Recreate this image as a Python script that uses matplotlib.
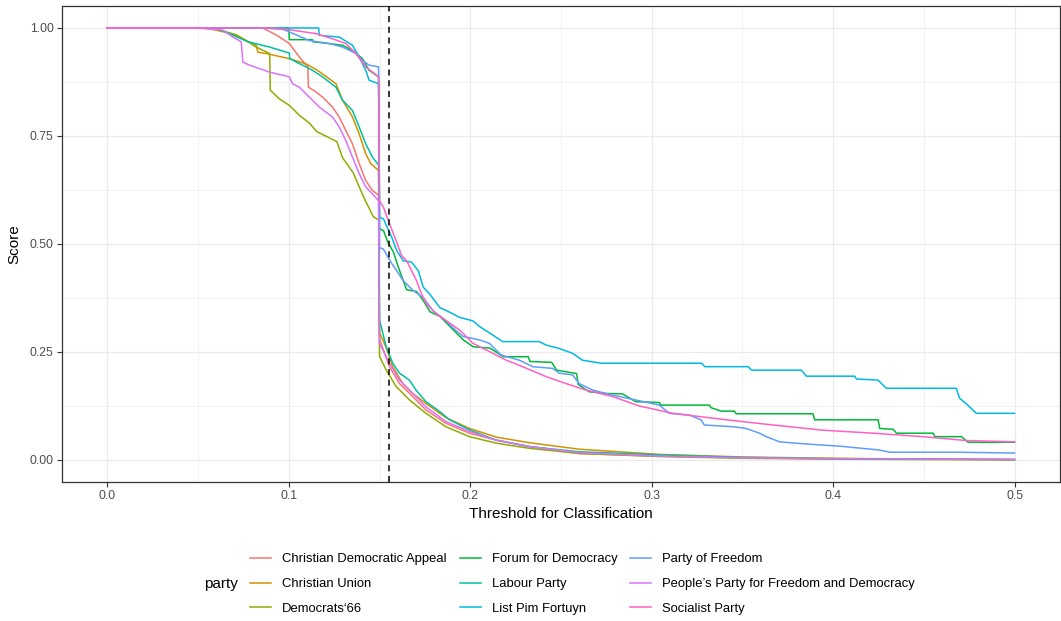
import numpy as np
import matplotlib.pyplot as plt
from matplotlib.lines import Line2D
from matplotlib.ticker import MultipleLocator

plt.rcParams['font.family'] = ['Liberation Sans', 'DejaVu Sans']

parties = ['Christian Democratic Appeal', 'Christian Union', 'Democrats‘66',
           'Forum for Democracy', 'Labour Party', 'List Pim Fortuyn',
           'Party of Freedom', "People’s Party for Freedom and Democracy",
           'Socialist Party']
colors = ['#F8766D', '#D39200', '#93AA00', '#00BA38', '#00C19F',
          '#00B9E3', '#619CFF', '#DB72FB', '#FF61C3']

cutoff = 0.1553

# Christian Democratic Appeal
cda_x = [0, 0.0857, 0.093, 0.1003, 0.1058, 0.1105, 0.1108, 0.115, 0.1186, 0.1241, 0.1278, 0.1314,
         0.1351, 0.1388, 0.1424, 0.1461, 0.1495,
         0.15, 0.1555, 0.161, 0.1683, 0.1756, 0.1866, 0.1996, 0.2143, 0.2326, 0.26, 0.304, 0.35,
         0.4, 0.45, 0.5]
cda_y = [1, 1, 0.984, 0.964, 0.933, 0.91, 0.863, 0.852, 0.84, 0.817, 0.794, 0.763,
         0.732, 0.686, 0.647, 0.624, 0.613,
         0.28, 0.216, 0.177, 0.147, 0.116, 0.085, 0.062, 0.046, 0.031, 0.015, 0.009, 0.005,
         0.003, 0.002, 0.001]

# Christian Union
cu_x = [0, 0.055, 0.071, 0.0765, 0.082, 0.083, 0.0875, 0.1003, 0.1095, 0.115, 0.1186, 0.126,
        0.1296, 0.1351, 0.1388, 0.1424, 0.1452, 0.1495,
        0.15, 0.1537, 0.1573, 0.1628, 0.1683, 0.1756, 0.1866, 0.1996, 0.2143, 0.2326, 0.26,
        0.304, 0.35, 0.4, 0.45, 0.5]
cu_y = [1, 1, 0.984, 0.971, 0.96, 0.944, 0.941, 0.929, 0.917, 0.904, 0.894, 0.871,
        0.833, 0.794, 0.755, 0.709, 0.686, 0.67,
        0.295, 0.26, 0.216, 0.177, 0.154, 0.131, 0.098, 0.073, 0.053, 0.04, 0.025,
        0.013, 0.007, 0.004, 0.002, 0.001]

# Democrats'66
d66_x = [0, 0.053, 0.064, 0.071, 0.0765, 0.082, 0.0895, 0.0898, 0.0948, 0.1003, 0.1058, 0.1113,
         0.1155, 0.1265, 0.1296, 0.1356, 0.1411, 0.1466, 0.1495,
         0.15, 0.1537, 0.1592, 0.1665, 0.1756, 0.1866, 0.1996, 0.2143, 0.2326, 0.26, 0.304,
         0.35, 0.4, 0.45, 0.5]
d66_y = [1, 1, 0.993, 0.984, 0.971, 0.956, 0.941, 0.856, 0.836, 0.821, 0.798, 0.78,
         0.76, 0.737, 0.7, 0.664, 0.61, 0.563, 0.556,
         0.24, 0.208, 0.17, 0.139, 0.108, 0.077, 0.054, 0.039, 0.027, 0.015, 0.008,
         0.004, 0.002, 0.001, 0.0005]

# Forum for Democracy
fvd_x = [0, 0.1, 0.1003, 0.1131, 0.1133, 0.1223, 0.1296, 0.1351, 0.1406, 0.1443, 0.1495,
         0.15, 0.1522, 0.1545, 0.1577, 0.1604, 0.1631, 0.165, 0.1705, 0.1741, 0.1779, 0.1834,
         0.1907, 0.1962, 0.2017, 0.2109, 0.2182, 0.232, 0.2329, 0.2449, 0.2476, 0.2586, 0.2595,
         0.2655, 0.2747, 0.2839, 0.2912, 0.3042, 0.3051, 0.3318, 0.3328, 0.3383, 0.3456, 0.3466,
         0.3889, 0.3898, 0.4248, 0.4257, 0.4331, 0.4349, 0.4551, 0.456, 0.4707, 0.4744, 0.5]
fvd_y = [1, 1, 0.973, 0.973, 0.968, 0.964, 0.96, 0.948, 0.929, 0.902, 0.887,
         0.535, 0.531, 0.505, 0.481, 0.446, 0.415, 0.394, 0.39, 0.369, 0.343, 0.332,
         0.301, 0.278, 0.262, 0.259, 0.239, 0.239, 0.228, 0.226, 0.208, 0.2, 0.175,
         0.158, 0.154, 0.153, 0.135, 0.133, 0.127, 0.127, 0.121, 0.113, 0.113, 0.107,
         0.107, 0.093, 0.093, 0.073, 0.071, 0.062, 0.062, 0.054, 0.054, 0.041, 0.041]

# Labour Party
pvda_x = [0, 0.06, 0.0775, 0.0893, 0.1003, 0.1005, 0.1095, 0.1131, 0.1186, 0.126, 0.1296,
          0.1351, 0.1388, 0.1424, 0.1461, 0.1495,
          0.15, 0.1537, 0.1573, 0.161, 0.1665, 0.1701, 0.1756, 0.1832, 0.1886, 0.2, 0.2143,
          0.2326, 0.26, 0.304, 0.35, 0.4, 0.45, 0.5]
pvda_y = [1, 1, 0.968, 0.956, 0.942, 0.929, 0.91, 0.902, 0.887, 0.863, 0.833,
          0.809, 0.771, 0.732, 0.701, 0.683,
          0.324, 0.262, 0.224, 0.201, 0.185, 0.162, 0.135, 0.112, 0.093, 0.069, 0.046,
          0.031, 0.019, 0.012, 0.006, 0.003, 0.002, 0.001]

# List Pim Fortuyn
lpf_x = [0, 0.1165, 0.1168, 0.1278, 0.1351, 0.1388, 0.1424, 0.1443, 0.1495,
         0.15, 0.1522, 0.1568, 0.1595, 0.1631, 0.1677, 0.1714, 0.1741, 0.1777, 0.1832, 0.1887,
         0.1942, 0.2015, 0.2051, 0.2125, 0.2179, 0.2381, 0.2418, 0.2491, 0.2564, 0.2619, 0.272,
         0.3275, 0.3293, 0.3532, 0.355, 0.3825, 0.3853, 0.4119, 0.4128, 0.4247, 0.4293, 0.4679,
         0.4697, 0.4734, 0.4789, 0.5]
lpf_y = [1, 1, 0.983, 0.979, 0.96, 0.933, 0.902, 0.879, 0.871,
         0.562, 0.558, 0.515, 0.485, 0.461, 0.458, 0.438, 0.4, 0.384, 0.353, 0.342,
         0.33, 0.322, 0.309, 0.289, 0.274, 0.274, 0.266, 0.258, 0.247, 0.231, 0.224,
         0.224, 0.216, 0.216, 0.208, 0.208, 0.194, 0.194, 0.1875, 0.185, 0.166, 0.166,
         0.143, 0.13, 0.108, 0.108]

# Party of Freedom
pvv_x = [0, 0.085, 0.0967, 0.1003, 0.1113, 0.1223, 0.1296, 0.137, 0.1406, 0.1443, 0.1495,
         0.15, 0.1522, 0.1558, 0.1595, 0.1631, 0.1686, 0.1741, 0.1796, 0.1869, 0.1896, 0.196,
         0.2051, 0.2106, 0.217, 0.2271, 0.2344, 0.2454, 0.2491, 0.2564, 0.26, 0.2674, 0.2784,
         0.2912, 0.3042, 0.3097, 0.3208, 0.3272, 0.329, 0.3447, 0.3521, 0.3594, 0.3631, 0.3705,
         0.3852, 0.4036, 0.4257, 0.4312, 0.468, 0.5]
pvv_y = [1, 1, 0.997, 0.991, 0.971, 0.964, 0.956, 0.941, 0.925, 0.914, 0.91,
         0.492, 0.488, 0.461, 0.438, 0.415, 0.392, 0.376, 0.345, 0.322, 0.309, 0.286,
         0.278, 0.27, 0.243, 0.231, 0.216, 0.212, 0.201, 0.197, 0.177, 0.162, 0.15,
         0.139, 0.127, 0.108, 0.104, 0.093, 0.081, 0.077, 0.073, 0.062, 0.054, 0.042,
         0.037, 0.032, 0.023, 0.018, 0.018, 0.016]

# People's Party for Freedom and Democracy
vvd_x = [0, 0.05, 0.0637, 0.0692, 0.0738, 0.0747, 0.0784, 0.0893, 0.1003, 0.1021, 0.1058,
         0.1113, 0.1168, 0.1241, 0.1278, 0.1314, 0.1351, 0.1388, 0.1424, 0.1461, 0.1495,
         0.15, 0.1555, 0.161, 0.1683, 0.1756, 0.1866, 0.1996, 0.2143, 0.2326, 0.26, 0.304,
         0.35, 0.4, 0.45, 0.5]
vvd_y = [1, 1, 0.995, 0.979, 0.968, 0.921, 0.914, 0.898, 0.887, 0.871, 0.863,
         0.84, 0.817, 0.794, 0.771, 0.74, 0.701, 0.663, 0.632, 0.616, 0.6,
         0.27, 0.224, 0.185, 0.154, 0.123, 0.089, 0.066, 0.046, 0.031, 0.017, 0.009,
         0.005, 0.003, 0.002, 0.001]

# Socialist Party
sp_x = [0, 0.09, 0.1003, 0.115, 0.1241, 0.1314, 0.137, 0.1424, 0.1495,
        0.15, 0.1522, 0.1549, 0.1577, 0.1595, 0.1622, 0.165, 0.1677, 0.1704, 0.1732, 0.1759,
        0.1814, 0.1869, 0.1941, 0.2015, 0.2106, 0.2198, 0.2289, 0.2418, 0.2527, 0.2637, 0.2784,
        0.2932, 0.3116, 0.3392, 0.3668, 0.3944, 0.422, 0.4496, 0.4735, 0.5]
sp_y = [1, 1, 0.996, 0.987, 0.975, 0.964, 0.941, 0.91, 0.887,
        0.6, 0.585, 0.554, 0.523, 0.504, 0.473, 0.461, 0.438, 0.415, 0.384, 0.361,
        0.338, 0.322, 0.301, 0.27, 0.251, 0.231, 0.216, 0.193, 0.177, 0.162, 0.147,
        0.125, 0.108, 0.094, 0.081, 0.069, 0.062, 0.054, 0.045, 0.042]

xs = [cda_x, cu_x, d66_x, fvd_x, pvda_x, lpf_x, pvv_x, vvd_x, sp_x]
ys = [cda_y, cu_y, d66_y, fvd_y, pvda_y, lpf_y, pvv_y, vvd_y, sp_y]

fig = plt.figure(figsize=(10.61, 6.21), dpi=100)
ax = fig.add_axes([0.0584, 0.2245, 0.9406, 0.7652])

for x, y, c in zip(xs, ys, colors):
    ax.plot(x, y, color=c, lw=1.1, zorder=3)

ax.axvline(cutoff, color='black', ls=(0, (4, 3)), lw=1.1, zorder=4)

ax.set_xlim(-0.025, 0.525)
ax.set_ylim(-0.05, 1.05)
ax.xaxis.set_minor_locator(MultipleLocator(0.05))
ax.yaxis.set_minor_locator(MultipleLocator(0.125))
ax.set_xticks([0, 0.1, 0.2, 0.3, 0.4, 0.5])
ax.set_xticklabels(['0.0', '0.1', '0.2', '0.3', '0.4', '0.5'])
ax.set_yticks([0, 0.25, 0.5, 0.75, 1.0])
ax.set_yticklabels(['0.00', '0.25', '0.50', '0.75', '1.00'])

ax.grid(which='major', color='#EBEBEB', lw=0.9, zorder=0)
ax.grid(which='minor', color='#EBEBEB', lw=0.5, zorder=0)
ax.set_axisbelow(True)
ax.tick_params(which='major', length=3.5, width=0.8, color='#333333',
               labelsize=8.8, labelcolor='#4D4D4D', pad=2.5)
ax.tick_params(which='minor', length=0)
for s in ax.spines.values():
    s.set_color('#333333')
    s.set_linewidth(0.9)

ax.set_xlabel('Threshold for Classification', fontsize=11, labelpad=4)
ax.set_ylabel('Score', fontsize=11, labelpad=6)

handles = [Line2D([], [], color=c, lw=1.1) for c in colors]
fig.legend(handles, parties, loc='upper left', bbox_to_anchor=(250 / 1061, 1 - 553 / 621),
           ncol=3, frameon=False, fontsize=9.4, handlelength=1.6, handletextpad=0.85,
           columnspacing=1.0, labelspacing=0.98, borderpad=0, borderaxespad=0)
fig.text(221 / 1061, 1 - 584 / 621, 'party', fontsize=11, ha='center', va='center')

fig.savefig('out.png', dpi=100)
